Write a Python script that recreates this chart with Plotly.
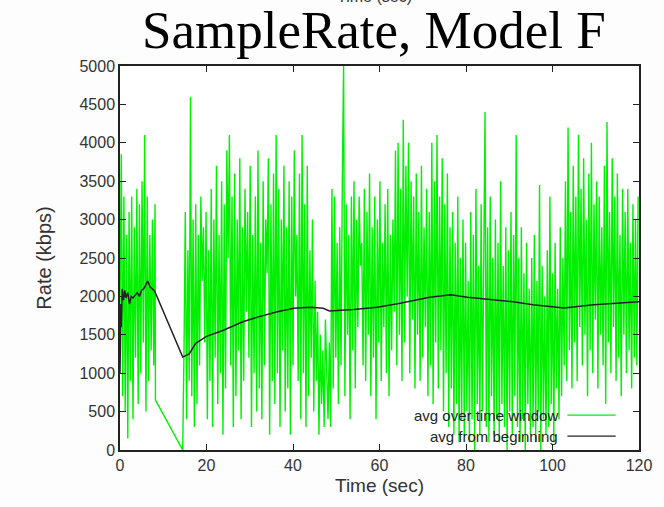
import plotly.graph_objects as go

# ---------------- data ----------------
sample_step = 0.3

# window-average rate, first segment (starts at t = 0.0)
seg1_start = 0.0
seg1_rate = [1800, 3850, 700, 3300, 500, 2800, 150, 3100, 900, 3300,
             400, 2900, 1200, 3400, 600, 3200, 1000, 3500, 1400, 4100,
             500, 3300, 900, 2800, 1300, 3000, 1100, 3200]

# samples across the gap
gap_time = [8.2, 14.5]
gap_rate = [650, 0]

# window-average rate, second segment (starts at t = 14.8)
seg2_start = 14.8
seg2_rate = [
    1300, 3100, 400, 2600, 900, 4600, 700, 3000, 300, 3200,
    600, 2800, 1100, 3300, 2200, 2900, 1400, 3100, 400, 2600,
    900, 3400, 300, 3000, 1200, 3700, 600, 2800, 1000, 3500,
    200, 3200, 800, 3900, 2500, 4100, 1100, 3300, 300, 3600,
    700, 3000, 1300, 3800, 400, 2900, 900, 3400, 1800, 3100,
    1200, 3700, 300, 2800, 1000, 3300, 500, 3900, 800, 2700,
    400, 3500, 1100, 3000, 2300, 3800, 200, 3200, 900, 3600,
    600, 4100, 1000, 3400, 300, 3000, 1300, 3700, 500, 2900,
    800, 3500, 200, 3300, 1100, 3900, 2000, 2800, 900, 3600,
    400, 4100, 1000, 3200, 300, 3700, 700, 2600, 1200, 3000,
    500, 2200, 900, 1800, 200, 1500, 600, 1300, 300, 1700,
    1000, 400, 1400, 300, 3400, 800, 3300, 1200, 2700, 600,
    2900, 1100, 3500, 5000, 700, 3200, 1500, 2800, 400, 3300,
    1300, 3500, 800, 3000, 1600, 3300, 2400, 2700, 1100, 3400,
    900, 3100, 1500, 3600, 700, 2900, 1200, 3300, 400, 3000,
    1400, 3500, 900, 2700, 1600, 3200, 1000, 3400, 700, 2800,
    1300, 3000, 1800, 3900, 1100, 4000, 1500, 3400, 900, 4300,
    1400, 3700, 2000, 4000, 1000, 3500, 1700, 3300, 800, 3600,
    1500, 3100, 900, 3700, 1200, 2900, 1600, 3400, 700, 3100,
    1100, 4000, 600, 3500, 1400, 4100, 800, 3300, 1300, 3800,
    500, 3200, 1000, 3600, 300, 2900, 800, 3100, 200, 2700,
    600, 3300, 100, 2500, 400, 3000, 200, 2700, 500, 2200,
    100, 3100, 400, 2800, 0, 3400, 600, 2400, 200, 3200,
    500, 2600, 4400, 300, 2900, 100, 3300, 700, 2500, 200,
    3000, 400, 2700, 100, 3500, 600, 2400, 300, 2900, 0,
    2600, 500, 3100, 200, 2800, 700, 4100, 300, 2500, 100,
    2900, 400, 2300, 0, 2700, 600, 2100, 200, 2500, 300,
    2800, 100, 2200, 500, 3450, 0, 2400, 400, 2000, 200,
    2600, 300, 3300, 600, 2300, 100, 2700, 800, 2100, 400,
    2900, 700, 2500, 1100, 3500, 900, 4200, 1300, 3100, 800,
    3700, 1400, 3300, 900, 4100, 1600, 3400, 1100, 3800, 1500,
    3000, 700, 3600, 1300, 4000, 1000, 3200, 1700, 3500, 800,
    3300, 1500, 2900, 1100, 3700, 600, 4270, 1400, 3100, 1000,
    3800, 1600, 3300, 900, 3600, 1200, 2800, 700, 3400, 1500,
    3100, 1000, 3400, 1300, 2700, 800, 3200, 1200, 3000, 1100,
    3300,
]

# cumulative average from beginning
cum_time = [0.0, 0.05, 0.1, 0.2, 0.3, 0.5, 0.8, 1.1, 1.4, 1.8, 2.2, 2.6,
            3.0, 3.5, 4.0, 4.5, 5.0, 5.5, 6.0, 6.4, 7.0, 8.0, 14.5, 16.0,
            17.5, 20.0, 23.9, 25.7, 28.4, 31.8, 36.4, 40.2, 43.9, 47.0,
            48.4, 54.0, 59.5, 64.8, 71.6, 76.5, 80.3, 85.6, 90.9, 95.5,
            102.7, 109.5, 115.0, 120.0]
cum_rate = [1000, 1700, 1450, 1900, 1600, 2100, 1950, 2080, 1980, 2050, 1900, 2000,
            1980, 2020, 2050, 2000, 2080, 2100, 2150, 2200, 2120, 2070, 1210, 1250,
            1390, 1480, 1560, 1600, 1670, 1730, 1800, 1845, 1860, 1845,
            1810, 1830, 1860, 1910, 1990, 2020, 1990, 1960, 1930, 1890,
            1850, 1890, 1910, 1930]

x_ticks = [0, 20, 40, 60, 80, 100, 120]
y_ticks = [0, 500, 1000, 1500, 2000, 2500, 3000, 3500, 4000, 4500, 5000]

legend_labels = ["avg over time window", "avg from beginning"]
series_colors = ["#00f000", "#222222"]

# ---------------- build ----------------
win_time = [round(seg1_start + i * sample_step, 3) for i in range(len(seg1_rate))]
win_time += gap_time
win_time += [round(seg2_start + i * sample_step, 3) for i in range(len(seg2_rate))]
win_rate = seg1_rate + gap_rate + seg2_rate

fig = go.Figure()
fig.add_trace(go.Scatter(x=win_time, y=win_rate, mode="lines",
                         line=dict(color=series_colors[0], width=1.4),
                         name=legend_labels[0], showlegend=False))
fig.add_trace(go.Scatter(x=cum_time, y=cum_rate, mode="lines",
                         line=dict(color=series_colors[1], width=1.5),
                         name=legend_labels[1], showlegend=False))

sans = "Liberation Sans, Arial, sans-serif"
axis_font = dict(family=sans, size=16, color="#333333")

fig.update_xaxes(range=[0, 120], tickvals=x_ticks, ticks="inside", ticklen=6,
                 tickwidth=1.3, tickcolor="#222", showline=True, linecolor="#222",
                 linewidth=1.5, mirror="ticks", showgrid=False, zeroline=False,
                 tickfont=axis_font,
                 title=dict(text="Time (sec)", font=dict(family=sans, size=19, color="#333333"),
                            standoff=6))
fig.update_yaxes(range=[0, 5000], tickvals=y_ticks, ticks="inside", ticklen=6,
                 tickwidth=1.3, tickcolor="#222", showline=True, linecolor="#222",
                 linewidth=1.5, mirror="ticks", showgrid=False, zeroline=False,
                 tickfont=axis_font,
                 title=dict(text="Rate (kbps)", font=dict(family=sans, size=20, color="#333333"),
                            standoff=22))

# gnuplot-style legend: right-aligned text with sample line to the right
legend_y = [0.091, 0.036]
for label, color, ly in zip(legend_labels, series_colors, legend_y):
    fig.add_annotation(xref="paper", yref="paper", x=0.848, y=ly, xanchor="right",
                       yanchor="middle", text=label, showarrow=False,
                       font=dict(family=sans, size=15, color="#222"))
    fig.add_shape(type="line", xref="paper", yref="paper", x0=0.862, x1=0.955,
                  y0=ly, y1=ly, line=dict(color=color, width=1.3))

fig.add_annotation(xref="paper", yref="paper", x=0.49, y=1.094, xanchor="center",
                   yanchor="middle", text="SampleRate, Model F", showarrow=False,
                   font=dict(family="Liberation Serif, Times New Roman, serif", size=53, color="#000"))
fig.add_annotation(xref="paper", yref="paper", x=0.49, y=1.182, xanchor="center",
                   yanchor="middle", text="Time (sec)", showarrow=False,
                   font=dict(family=sans, size=16, color="#333"))

fig.update_layout(width=664, height=507, margin=dict(l=120, r=16, t=66, b=57),
                  paper_bgcolor="#fdfdfd", plot_bgcolor="#ffffff")

fig.write_html("out.html")
